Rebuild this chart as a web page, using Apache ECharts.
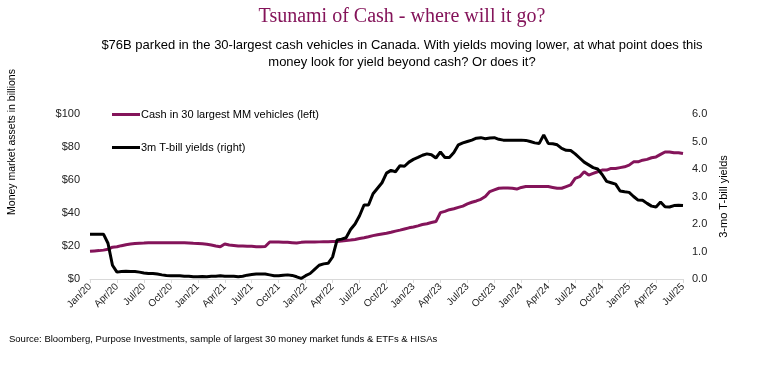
<!DOCTYPE html>
<html><head><meta charset="utf-8">
<script src="https://cdn.jsdelivr.net/npm/echarts@6/dist/echarts.min.js"></script>
<style>html,body{margin:0;padding:0;background:#fff}#c{width:772px;height:374px}</style>
</head><body><div id="c"></div>
<script>
// Quarterly tick labels (one every 6 half-month steps)
var tickLabels = ["Jan/20","Apr/20","Jul/20","Oct/20","Jan/21","Apr/21","Jul/21","Oct/21","Jan/22","Apr/22","Jul/22","Oct/22","Jan/23","Apr/23","Jul/23","Oct/23","Jan/24","Apr/24","Jul/24","Oct/24","Jan/25","Apr/25","Jul/25"];

// Cash in 30 largest MM vehicles ($B), half-month steps from Jan/20 to Jul/25
var cashValues = [
16.8,17,17.2,17.5,18,19.3,19.5,20.2,20.8,21.2,21.5,21.7,21.8,22,22,22,22,22,22,22,
22,21.9,21.8,21.6,21.5,21.3,21,20.6,20,19.5,21.2,20.6,20.3,20,20,19.8,19.8,19.6,19.6,19.7,
22.4,22.4,22.4,22.3,22.2,22.0,21.8,22.2,22.4,22.4,22.4,22.5,22.6,22.6,22.7,22.8,23,23.3,23.6,24,
24.5,25,25.6,26.3,26.8,27.3,27.7,28.3,29,29.6,30.3,31,31.5,32.2,33,33.5,34.2,34.8,40.2,41,
42,42.6,43.4,44.2,45.5,46.5,47.3,48.3,50,53,54,55,55.2,55.2,55,54.5,55.5,56,56,56,
56,56,56,55.5,55,55,56,57,61,62,65,63,64,65,66,66,67,67,67.5,68,
69,71,71,72,72.5,73.5,74,75.5,77,77,76.5,76.5,76
];

// 3m T-bill yields (%), same half-month steps
var tbillValues = [
1.63,1.63,1.63,1.63,1.3,0.5,0.25,0.27,0.28,0.27,0.27,0.25,0.22,0.2,0.2,0.18,0.15,0.13,0.12,0.12,
0.12,0.1,0.1,0.08,0.08,0.09,0.08,0.1,0.1,0.12,0.1,0.1,0.1,0.08,0.1,0.14,0.16,0.18,0.18,0.18,
0.15,0.12,0.12,0.14,0.15,0.13,0.08,0.02,0.12,0.2,0.35,0.5,0.55,0.57,0.8,1.42,1.45,1.5,1.8,2.0,
2.3,2.69,2.69,3.1,3.3,3.5,3.85,3.95,3.9,4.12,4.1,4.25,4.35,4.42,4.5,4.55,4.52,4.4,4.62,4.42,
4.42,4.6,4.88,4.95,5.0,5.05,5.12,5.14,5.1,5.13,5.14,5.08,5.05,5.05,5.05,5.05,5.05,5.04,5.0,4.95,
4.93,5.24,4.93,4.92,4.88,4.75,4.68,4.67,4.55,4.4,4.25,4.15,4.05,4.0,3.8,3.55,3.5,3.45,3.2,3.17,
3.15,3.0,2.87,2.86,2.75,2.65,2.62,2.8,2.63,2.62,2.67,2.68,2.67
];

var categories = cashValues.map(function(_, i){ return String(i); });
var PURPLE = '#84145A';
var FONT = '"Liberation Sans", Arial, sans-serif';

var chart = echarts.init(document.getElementById('c'));
chart.setOption({
  animation: false,
  backgroundColor: '#fff',
  textStyle: { fontFamily: FONT },
  graphic: [
    { type: 'text', x: 402, y: 7, style: { text: 'Tsunami of Cash - where will it go?', fill: PURPLE, font: '20px "Liberation Serif", "Times New Roman", serif', textAlign: 'center' } },
    { type: 'text', x: 402, y: 37, style: { text: '$76B parked in the 30-largest cash vehicles in Canada. With yields moving lower, at what point does this\nmoney look for yield beyond cash? Or does it?', fill: '#000', font: '13px ' + FONT, textAlign: 'center', lineHeight: 17 } },
    { type: 'text', x: 12, y: 142, rotation: Math.PI / 2, style: { text: 'Money market assets in billions', fill: '#000', font: '10.5px ' + FONT, textAlign: 'center', textVerticalAlign: 'middle' } },
    { type: 'text', x: 9, y: 334, style: { text: 'Source: Bloomberg, Purpose Investments, sample of largest 30 money market funds & ETFs & HISAs', fill: '#000', font: '9.5px ' + FONT } }
  ],
  legend: {
    orient: 'vertical', left: 107, top: 104, itemWidth: 28, itemHeight: 3, itemGap: 22,
    icon: 'rect',
    textStyle: { fontSize: 11, color: '#000', padding: [0,0,0,-4] },
    data: ['Cash in 30 largest MM vehicles (left)', '3m T-bill yields (right)']
  },
  grid: { left: 90, right: 89, top: 114, bottom: 95 },
  xAxis: {
    type: 'category', data: categories, boundaryGap: false,
    axisLine: { lineStyle: { color: '#d9d9d9', width: 1 } },
    axisTick: { interval: function(i){ return i % 6 === 0; }, length: 4, lineStyle: { color: '#d9d9d9' } },
    axisLabel: { interval: function(i){ return i % 6 === 0; }, rotate: 45, fontSize: 10, color: '#222', margin: 6,
      formatter: function(v, i){ return tickLabels[i / 6] || ''; } },
    splitLine: { show: false }
  },
  yAxis: [
    { type: 'value', min: 0, max: 100, interval: 20, position: 'left',
      axisLine: { show: false }, axisTick: { show: false }, splitLine: { show: false },
      axisLabel: { formatter: function(v){ return '$' + v; }, fontSize: 11, color: '#222', margin: 10 } },
    { type: 'value', min: 0, max: 6, interval: 1, position: 'right',
      name: '3-mo T-bill yields', nameLocation: 'middle', nameRotate: 90, nameGap: 30,
      nameTextStyle: { fontSize: 11, color: '#000' },
      axisLine: { show: false }, axisTick: { show: false }, splitLine: { show: false },
      axisLabel: { formatter: function(v){ return v.toFixed(1); }, fontSize: 11, color: '#222', margin: 9 } }
  ],
  series: [
    { name: 'Cash in 30 largest MM vehicles (left)', type: 'line', yAxisIndex: 0, data: cashValues,
      showSymbol: false, lineStyle: { color: PURPLE, width: 3 }, itemStyle: { color: PURPLE }, z: 2 },
    { name: '3m T-bill yields (right)', type: 'line', yAxisIndex: 1, data: tbillValues,
      showSymbol: false, lineStyle: { color: '#000', width: 3 }, itemStyle: { color: '#000' }, z: 3 }
  ]
});
</script></body></html>
